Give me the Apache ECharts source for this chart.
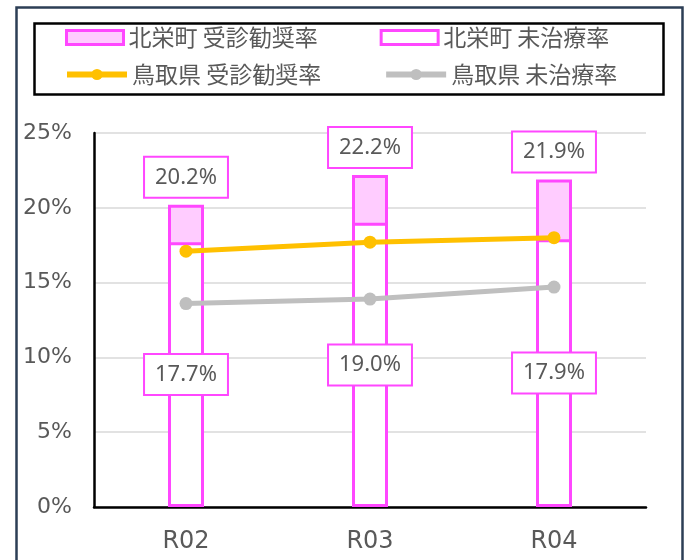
<!DOCTYPE html>
<html>
<head>
<meta charset="utf-8">
<script src="https://cdn.jsdelivr.net/npm/echarts@6/dist/echarts.min.js"></script>
<style>
html,body{margin:0;padding:0;background:#fff;}
#chart{width:684px;height:560px;}
</style>
</head>
<body>
<div id="chart"></div>
<script>
const categories = ['R02', 'R03', 'R04'];
const seriesNames = ['北栄町 受診勧奨率', '北栄町 未治療率', '鳥取県 受診勧奨率', '鳥取県 未治療率'];
const hokueiJushin = [20.2, 22.2, 21.9];
const hokueiMichiryo = [17.7, 19.0, 17.9];
const tottoriJushin = [17.1, 17.7, 18.0];
const tottoriMichiryo = [13.6, 13.9, 14.7];

const MAGENTA = '#FF47FF';
const PINK = '#FFCCFF';
const ORANGE = '#FFC000';
const GRAY = '#BFBFBF';
const TEXT = '#595959';

const chart = echarts.init(document.getElementById('chart'));
const pct = p => p.value.toFixed(1) + '%';
const labelBox = {
  show: true,
  formatter: pct,
  fontFamily: 'Noto Sans',
  fontSize: 22,
  lineHeight: 21,
  color: TEXT,
  backgroundColor: '#fff',
  borderColor: MAGENTA,
  borderWidth: 2,
  padding: [9, 10]
};
const legendText = {fontSize: 23, fontFamily: 'Noto Sans CJK JP', color: TEXT};

chart.setOption({
  animation: false,
  graphic: [
    {type: 'rect', left: 14, top: 5, shape: {width: 666, height: 600},
     style: {fill: 'none', stroke: '#2C3E55', lineWidth: 2.5}, silent: true},
    {type: 'rect', left: 32, top: 21, shape: {width: 629, height: 71},
     style: {fill: 'none', stroke: '#000', lineWidth: 2.5}, silent: true}
  ],
  legend: [
    {
      left: 65, top: 26, padding: 0, itemGap: 62, itemWidth: 57, itemHeight: 14, icon: 'rect',
      selectedMode: false, textStyle: legendText,
      data: [
        {name: seriesNames[0], itemStyle: {color: PINK, borderColor: MAGENTA, borderWidth: 3}},
        {name: seriesNames[1], itemStyle: {color: '#fff', borderColor: MAGENTA, borderWidth: 3}}
      ]
    },
    {
      left: 64, top: 63, padding: 0, itemGap: 62, itemWidth: 60, itemHeight: 14,
      selectedMode: false, textStyle: legendText,
      lineStyle: {width: 6},
      data: [seriesNames[2], seriesNames[3]]
    }
  ],
  grid: {left: 94, right: 38, top: 133, bottom: 53, containLabel: false},
  xAxis: {
    type: 'category',
    data: categories,
    axisLine: {lineStyle: {color: '#000', width: 2.5}},
    axisTick: {show: false},
    axisLabel: {fontSize: 24, fontFamily: 'DejaVu Sans', color: TEXT, margin: 23}
  },
  yAxis: {
    type: 'value',
    min: 0, max: 25, interval: 5,
    axisLine: {show: true, lineStyle: {color: '#000', width: 2.5}},
    axisTick: {show: false},
    axisLabel: {formatter: '{value}%', fontSize: 22, fontFamily: 'DejaVu Sans', color: TEXT, margin: 22},
    splitLine: {lineStyle: {color: '#D9D9D9', width: 1.5}}
  },
  series: [
    {
      name: seriesNames[0], type: 'bar', data: hokueiJushin,
      barWidth: 36, barGap: '-100%',
      itemStyle: {color: PINK, borderColor: MAGENTA, borderWidth: 3},
      label: Object.assign({}, labelBox, {position: 'top', distance: 8}),
      emphasis: {disabled: true}
    },
    {
      name: seriesNames[1], type: 'bar', data: hokueiMichiryo,
      barWidth: 36, barGap: '-100%',
      itemStyle: {color: '#fff', borderColor: MAGENTA, borderWidth: 3},
      label: Object.assign({}, labelBox, {position: 'inside'}),
      emphasis: {disabled: true}
    },
    {
      name: seriesNames[2], type: 'line', data: tottoriJushin, z: 5,
      symbol: 'circle', symbolSize: 13,
      lineStyle: {color: ORANGE, width: 5}, itemStyle: {color: ORANGE},
      emphasis: {disabled: true}
    },
    {
      name: seriesNames[3], type: 'line', data: tottoriMichiryo, z: 5,
      symbol: 'circle', symbolSize: 13,
      lineStyle: {color: GRAY, width: 5}, itemStyle: {color: GRAY},
      emphasis: {disabled: true}
    }
  ]
});
</script>
</body>
</html>
